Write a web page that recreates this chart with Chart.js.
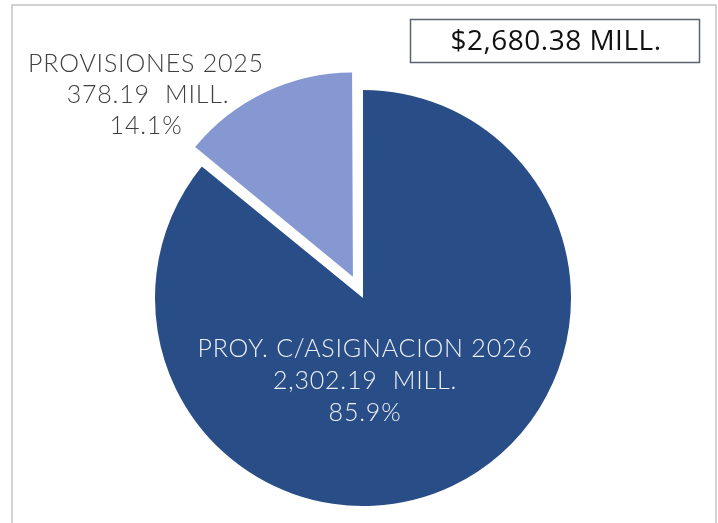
<!DOCTYPE html>
<html>
<head>
<meta charset="utf-8">
<script src="https://cdn.jsdelivr.net/npm/chart.js@4.4.1/dist/chart.umd.min.js"></script>
<style>
  body { margin: 0; background: #fff; }
  #wrap { position: relative; width: 718px; height: 523px; overflow: hidden; }
  #frame { position: absolute; left: 11px; top: 4px; width: 702px; height: 540px; border: 2px solid #d2d2d2; }
  canvas { position: absolute; left: 0; top: 0; }
</style>
</head>
<body>
<div id="wrap">
  <div id="frame"></div>
  <canvas id="pieChart" width="718" height="523"></canvas>
</div>
<script>
// data (millions)
const categories = ['PROY. C/ASIGNACION 2026', 'PROVISIONES 2025'];
const amounts = [2302.19, 378.19];
const percents = ['85.9%', '14.1%'];
const totalLabel = '$2,680.38 MILL.';

const fmt = v => v.toLocaleString('en-US', { minimumFractionDigits: 2, maximumFractionDigits: 2 });

// exploded slice is drawn a bit smaller, like the excel original
const explodeFix = {
    id: 'explodeFix',
    afterDatasetUpdate(chart, args) {
        const arc = chart.getDatasetMeta(args.index).data[1];
        if (arc) arc.outerRadius -= 9;
    }
};

// slice labels + total box
const labelPlugin = {
    id: 'sliceLabels',
    afterDatasetsDraw(chart) {
        const ctx = chart.ctx;
        const c = chart.getDatasetMeta(0).data[0];
        ctx.save();
        ctx.textAlign = 'center';
        ctx.textBaseline = 'middle';
        ctx.font = '300 25px Lato';
        ctx.letterSpacing = '0.8px';

        // inside label for the big slice
        ctx.fillStyle = '#eef0f6';
        const x0 = c.x + 2, y0 = c.y + 51;
        [categories[0], fmt(amounts[0]) + '  MILL.', percents[0]].forEach((t, i) => {
            ctx.fillText(t, x0, y0 + i * 32);
        });

        // outside label for the small slice
        ctx.fillStyle = '#404040';
        const x1 = c.x - 217, y1 = c.y - 234;
        [categories[1], fmt(amounts[1]) + '  MILL.', percents[1]].forEach((t, i) => {
            ctx.fillText(t, x1 + (i === 1 ? 2 : 0), y1 + i * 31);
        });

        // total box
        ctx.strokeStyle = '#5b6272';
        ctx.lineWidth = 1.5;
        ctx.strokeRect(410.5, 19.5, 289, 43);
        ctx.fillStyle = '#111';
        ctx.font = '28px "Open Sans"';
        ctx.letterSpacing = '0.5px';
        ctx.fillText(totalLabel, 556, 42);
        ctx.restore();
    }
};

const ctx = document.getElementById('pieChart').getContext('2d');
const pieChart = new Chart(ctx, {
    type: 'pie',
    data: {
        labels: categories,
        datasets: [{
            data: amounts,
            backgroundColor: ['#294e87', '#8598d2'],
            borderWidth: 0,
            offset: [0, 94], // chart.js moves the slice by offset/4
            clip: false
        }]
    },
    options: {
        responsive: false,
        animation: false,
        radius: 208,
        layout: { padding: { left: 108, right: 100, top: 83, bottom: 10 } },
        plugins: {
            legend: { display: false },
            tooltip: { enabled: false }
        }
    },
    plugins: [explodeFix, labelPlugin]
});
</script>
</body>
</html>
